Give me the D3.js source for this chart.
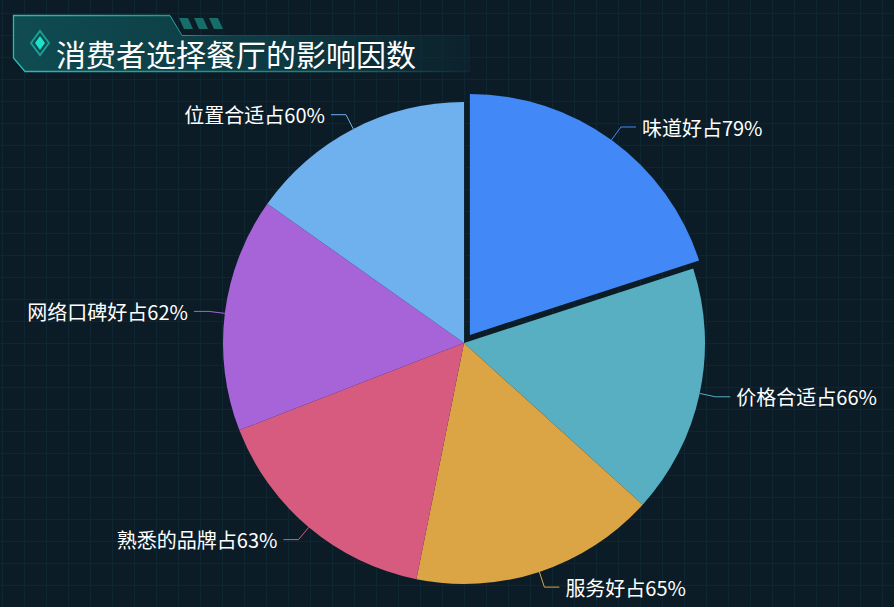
<!DOCTYPE html>
<html>
<head>
<meta charset="utf-8">
<script src="https://cdn.jsdelivr.net/npm/d3@7/dist/d3.min.js"></script>
<style>
  html, body { margin: 0; padding: 0; background: #0b1c27; overflow: hidden; }
  svg { display: block; }
</style>
</head>
<body>
<svg id="chart" width="894" height="607"></svg>
<script>
// ---- data ----
const title = "消费者选择餐厅的影响因数";
const categories = ["味道好", "价格合适", "服务好", "熟悉的品牌", "网络口碑好", "位置合适"];
const values = [79, 66, 65, 63, 62, 60];
const selectedIndex = [0];
// ---- style ----
const colors = ["#4289f7", "#57afc1", "#dba444", "#d75b7e", "#a763d8", "#6fb1ee"];

const W = 894, H = 607;
const svg = d3.select("#chart");
const defs = svg.append("defs");

// background + grid
svg.append("rect").attr("width", W).attr("height", H).attr("fill", "#0b1c27");
const grid = svg.append("g").attr("stroke", "#0e2532").attr("stroke-width", 1);
d3.range(2, W, 22).forEach(x => grid.append("line").attr("x1", x + 0.5).attr("x2", x + 0.5).attr("y1", 0).attr("y2", H));
d3.range(13, H, 22).forEach(y => grid.append("line").attr("y1", y + 0.5).attr("y2", y + 0.5).attr("x1", 0).attr("x2", W));

// header
const gFill = defs.append("linearGradient").attr("id", "hdrFill").attr("x1", "0").attr("x2", "1").attr("y1", "0").attr("y2", "0");
gFill.append("stop").attr("offset", "0").attr("stop-color", "#0f4c52").attr("stop-opacity", 1);
gFill.append("stop").attr("offset", "0.6").attr("stop-color", "#0e3e46").attr("stop-opacity", 0.85);
gFill.append("stop").attr("offset", "1").attr("stop-color", "#0d2c35").attr("stop-opacity", 0.4);
const gLine = defs.append("linearGradient").attr("id", "hdrLine").attr("gradientUnits", "userSpaceOnUse").attr("x1", 13).attr("x2", 470).attr("y1", 0).attr("y2", 0);
gLine.append("stop").attr("offset", "0").attr("stop-color", "#2bbcb0").attr("stop-opacity", 1);
gLine.append("stop").attr("offset", "0.7").attr("stop-color", "#1f8d88").attr("stop-opacity", 0.8);
gLine.append("stop").attr("offset", "1").attr("stop-color", "#1a6e6c").attr("stop-opacity", 0.1);
const gLine2 = defs.append("linearGradient").attr("id", "hdrLine2").attr("gradientUnits", "userSpaceOnUse").attr("x1", 170).attr("x2", 470).attr("y1", 0).attr("y2", 0);
gLine2.append("stop").attr("offset", "0").attr("stop-color", "#2bbcb0").attr("stop-opacity", 0.9);
gLine2.append("stop").attr("offset", "0.2").attr("stop-color", "#1a6a6a").attr("stop-opacity", 0.6);
gLine2.append("stop").attr("offset", "1").attr("stop-color", "#164c52").attr("stop-opacity", 0.2);

const hdr = svg.append("g");
hdr.append("path").attr("d", "M13,15 L170,15 L182,36 L470,36 L470,72 L25,72 L13,58 Z").attr("fill", "url(#hdrFill)");
hdr.append("path").attr("d", "M170,15.5 L13.5,15.5 L13.5,58 L25,71.5 L470,71.5").attr("fill", "none").attr("stroke", "url(#hdrLine)").attr("stroke-width", 1.3);
hdr.append("path").attr("d", "M170,15.5 L182,35.5 L470,35.5").attr("fill", "none").attr("stroke", "url(#hdrLine2)").attr("stroke-width", 1);
[0, 1, 2].forEach(i => {
  const x0 = 179 + i * 15;
  hdr.append("path").attr("d", `M${x0},18 L${x0 + 9},18 L${x0 + 14},29 L${x0 + 5},29 Z`).attr("fill", "#186d68");
});
// diamond icon
hdr.append("path").attr("d", "M40,31 L49,43 L40,55 L31,43 Z").attr("fill", "none").attr("stroke", "#1a9e92").attr("stroke-width", 2);
hdr.append("path").attr("d", "M40,36 L45,43 L40,50 L35,43 Z").attr("fill", "#1fe2cb");
hdr.append("text").attr("x", 56).attr("y", 66)
  .attr("font-family", "'Noto Sans CJK SC', 'Noto Sans', sans-serif")
  .attr("font-size", 30).attr("fill", "#ffffff").text(title);

// pie
const cx = 464, cy = 343, R = 241, offset = 10;
const L1 = 16, L2 = 15;
const pie = d3.pie().sort(null).value(d => d.value);
const data = categories.map((c, i) => ({ name: c, value: values[i], i }));
const arcs = pie(data);
const arc = d3.arc().innerRadius(0).outerRadius(R);

const g = svg.append("g").attr("transform", `translate(${cx},${cy})`);
arcs.forEach(a => {
  const mid = (a.startAngle + a.endAngle) / 2;
  const sel = selectedIndex.includes(a.data.i);
  const dx = sel ? offset * Math.sin(mid) : 0;
  const dy = sel ? -offset * Math.cos(mid) : 0;
  const col = colors[a.data.i];
  const sg = g.append("g").attr("transform", `translate(${dx},${dy})`);
  sg.append("path").attr("d", arc(a)).attr("fill", col);

  const p1 = [R * Math.sin(mid), -R * Math.cos(mid)];
  const p2 = [(R + L1) * Math.sin(mid), -(R + L1) * Math.cos(mid)];
  const right = Math.sin(mid) >= 0;
  const p3 = [p2[0] + (right ? L2 : -L2), p2[1]];
  sg.append("polyline").attr("points", [p1, p2, p3].map(p => p.join(",")).join(" "))
    .attr("fill", "none").attr("stroke", col).attr("stroke-width", 1);
  sg.append("text")
    .attr("x", p3[0] + (right ? 6 : -6)).attr("y", p3[1])
    .attr("text-anchor", right ? "start" : "end")
    .attr("dominant-baseline", "central")
    .attr("font-family", "'Noto Sans CJK SC', 'Noto Sans', sans-serif")
    .attr("font-size", 20).attr("fill", "#ffffff")
    .text(`${a.data.name}占${a.data.value}%`);
});
</script>
</body>
</html>
